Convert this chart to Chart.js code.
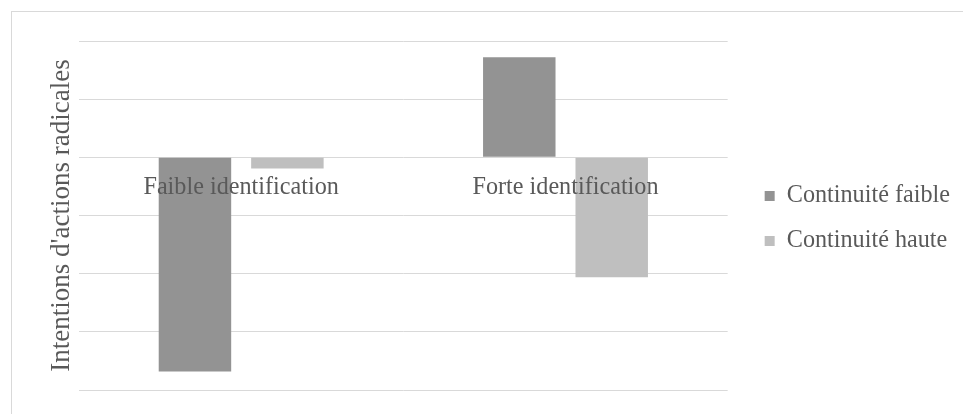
<!DOCTYPE html>
<html>
<head>
<meta charset="utf-8">
<script src="https://cdn.jsdelivr.net/npm/chart.js@4/dist/chart.umd.min.js"></script>
<style>
  html, body { margin: 0; padding: 0; background: #ffffff; overflow: hidden; }
  #frame { position: absolute; left: 11px; top: 11px; width: 1000px; height: 500px; border: 1px solid #d9d9d9; }
  #wrap { position: absolute; left: 0; top: 0; width: 963px; height: 414px; }
</style>
</head>
<body>
<div id="frame"></div>
<div id="wrap"><canvas id="chart" width="963" height="414"></canvas></div>
<script>
// Groups and the two series of mean intentions
const categories = ['Faible identification', 'Forte identification'];
const seriesNames = ['Continuité faible', 'Continuité haute'];
const continuiteFaible = [-3.68, 1.72];
const continuiteHaute = [-0.19, -2.06];
const yTicks = [-4, -3, -2, -1, 0, 1, 2];

const textColor = '#595959';
const serif = '"Liberation Serif", "Times New Roman", serif';

new Chart(document.getElementById('chart'), {
  type: 'bar',
  data: {
    labels: categories,
    datasets: [
      { label: seriesNames[0], data: continuiteFaible, backgroundColor: '#939393', borderWidth: 0 },
      { label: seriesNames[1], data: continuiteHaute, backgroundColor: '#bfbfbf', borderWidth: 0 }
    ]
  },
  options: {
    responsive: false,
    animation: false,
    devicePixelRatio: 1,
    datasets: { bar: { categoryPercentage: 0.57, barPercentage: 0.784 } },
    layout: { padding: { left: 0, right: 3, top: 41, bottom: 24 } },
    plugins: {
      tooltip: { enabled: false },
      legend: {
        position: 'right',
        align: 'center',
        maxWidth: 300,
        // empty spacer title nudges the legend rows down a little
        title: { display: true, text: '', font: { size: 5 }, padding: 0 },
        labels: {
          boxWidth: 10,
          boxHeight: 10,
          padding: 21,
          color: textColor,
          font: { family: serif, size: 24.2 }
        }
      }
    },
    scales: {
      x: {
        position: { y: 0 },
        grid: { display: false },
        border: { display: false },
        ticks: { z: 1, color: textColor, font: { family: serif, size: 24.2 }, padding: 8, maxRotation: 0, autoSkip: false },
        afterFit: (s) => { s.height = 0; }
      },
      y: {
        min: yTicks[0],
        max: yTicks[yTicks.length - 1],
        afterBuildTicks: (s) => { s.ticks = yTicks.map(v => ({ value: v })); },
        ticks: { display: false },
        grid: { color: '#d9d9d9', lineWidth: 1, drawTicks: false },
        border: { display: false },
        title: {
          display: true,
          text: "Intentions d'actions radicales",
          color: textColor,
          font: { family: serif, size: 27 },
          padding: { top: 46, bottom: 0 }
        },
        afterFit: (s) => { s.width = 79; }
      },
      spacer: {
        axis: 'y',
        position: 'right',
        display: true,
        ticks: { display: false },
        grid: { display: false },
        border: { display: false },
        afterFit: (s) => { s.width = 16; }
      }
    }
  }
});
</script>
</body>
</html>
